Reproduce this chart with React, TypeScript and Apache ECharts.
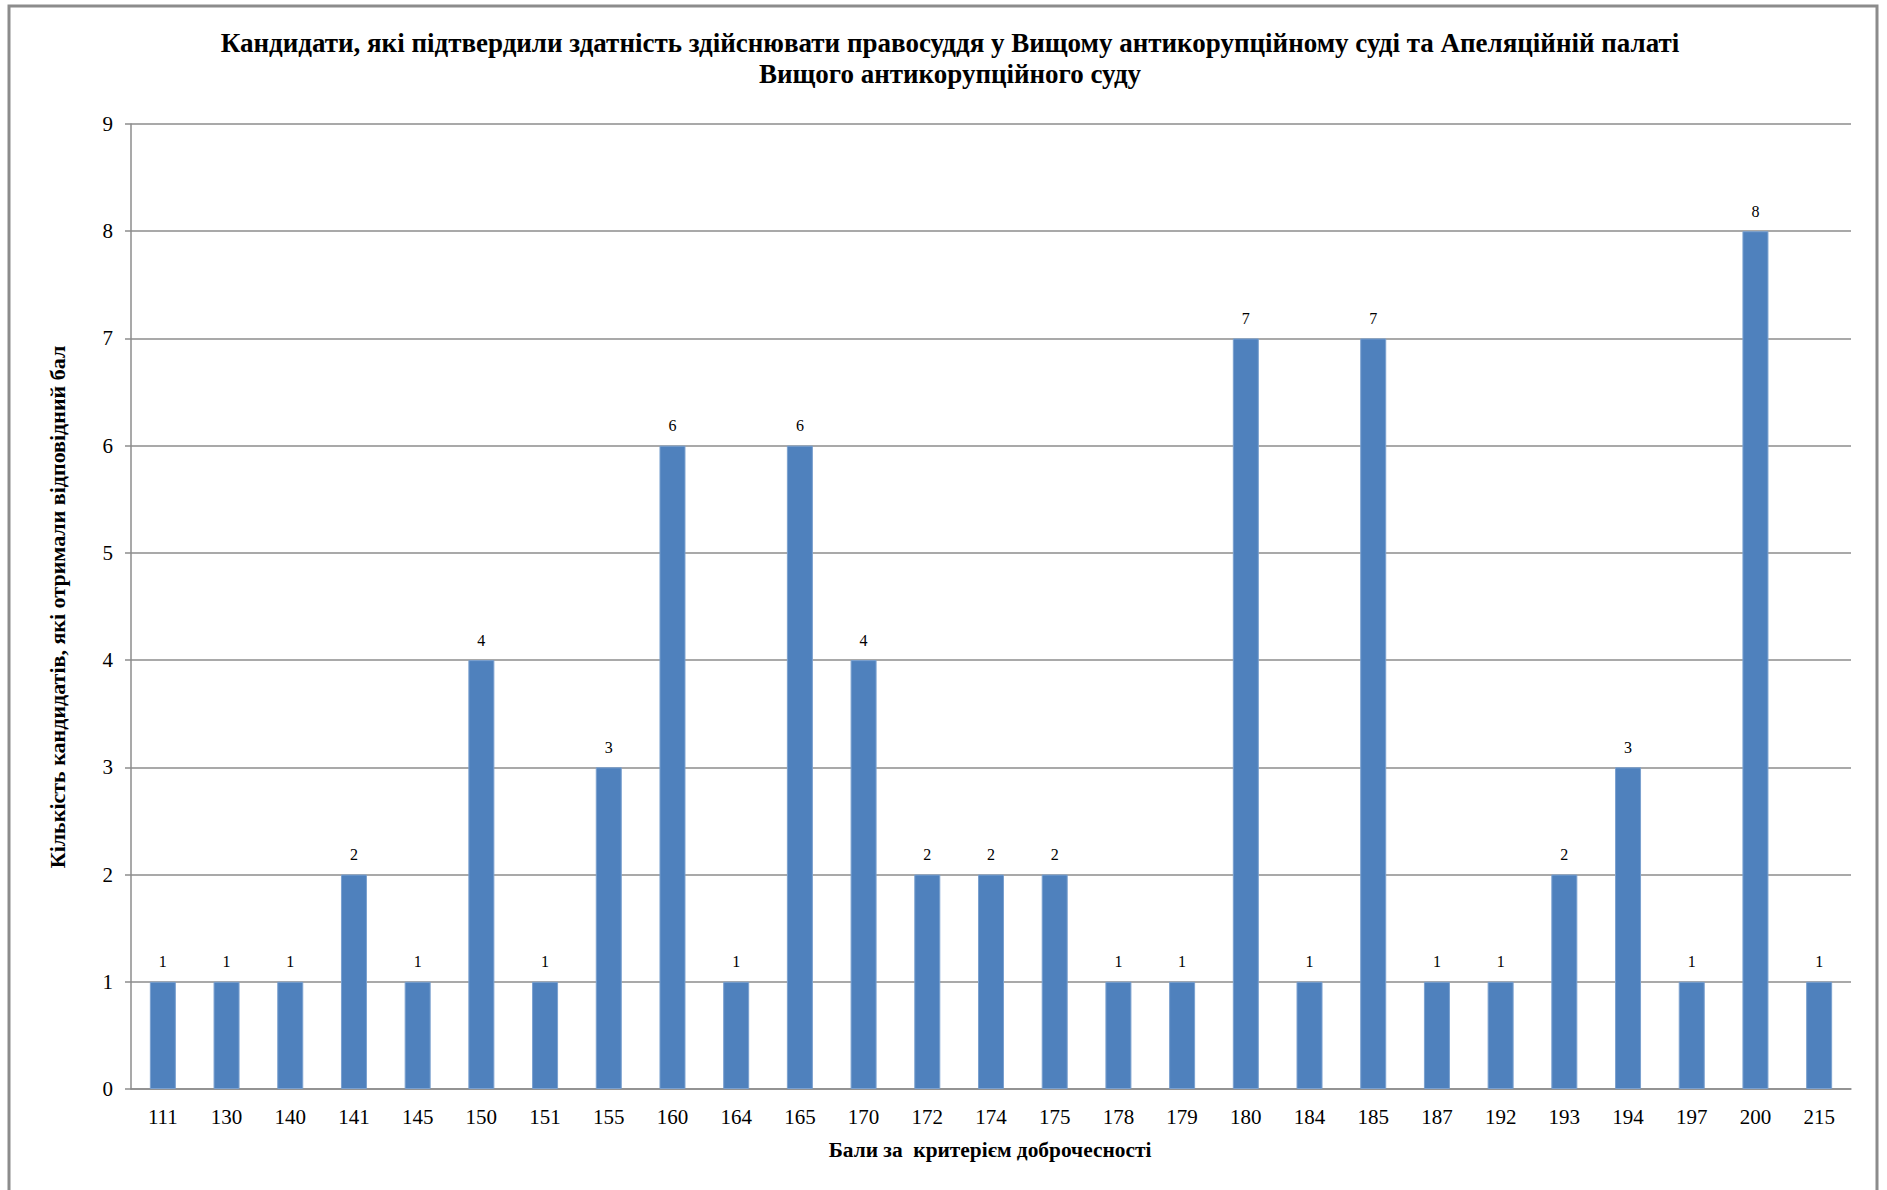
import React, { useEffect, useRef } from "react";
import * as echarts from "echarts";

const categories = ["111","130","140","141","145","150","151","155","160","164","165","170","172","174","175","178","179","180","184","185","187","192","193","194","197","200","215"];
const counts = [1,1,1,2,1,4,1,3,6,1,6,4,2,2,2,1,1,7,1,7,1,1,2,3,1,8,1];
const titleLines = [
  "Кандидати, які підтвердили здатність здійснювати правосуддя у Вищому антикорупційному суді та Апеляційній палаті",
  "Вищого антикорупційного суду",
];
const xAxisName = "Бали за  критерієм доброчесності";
const yAxisName = "Кількість кандидатів, які отримали відповідний бал";

const SERIF = '"Liberation Serif", "Times New Roman", serif';

export default function App() {
  const ref = useRef<HTMLDivElement>(null);
  useEffect(() => {
    if (!ref.current) return;
    const chart = echarts.init(ref.current, null, { renderer: "svg" });
    chart.setOption({
      animation: false,
      backgroundColor: "#ffffff",
      title: {
        text: titleLines.join("\n"),
        left: 945,
        top: 22,
        textAlign: "center",
        textStyle: {
          fontFamily: SERIF,
          fontWeight: "bold",
          fontSize: 27,
          color: "#000",
          lineHeight: 31,
        },
      },
      grid: { left: 131, right: 36, top: 124, bottom: 101, containLabel: false },
      xAxis: {
        type: "category",
        data: categories,
        axisLine: { show: true, lineStyle: { color: "#8c8c8c", width: 1.5 } },
        axisTick: { show: false },
        axisLabel: { fontFamily: SERIF, fontSize: 21, color: "#000", margin: 17, interval: 0 },
        splitLine: { show: false },
      },
      yAxis: {
        type: "value",
        min: 0,
        max: 9,
        interval: 1,
        axisLine: { show: true, lineStyle: { color: "#8c8c8c", width: 1.5 } },
        axisTick: { show: true, length: 6, lineStyle: { color: "#8c8c8c", width: 1.5 } },
        axisLabel: { fontFamily: SERIF, fontSize: 21, color: "#000", margin: 18 },
        splitLine: { show: true, lineStyle: { color: "#8c8c8c", width: 1.5 } },
      },
      series: [
        {
          type: "bar",
          data: counts,
          barWidth: 26,
          itemStyle: { color: "#4F81BD", borderColor: "#7aa0cf", borderWidth: 1 },
          label: {
            show: true,
            position: "top",
            distance: 12,
            fontFamily: SERIF,
            fontSize: 16,
            color: "#000",
          },
        },
      ],
      graphic: [
        {
          type: "rect",
          shape: { x: 9, y: 6, width: 1868, height: 1300 },
          style: { fill: "none", stroke: "#8c8c8c", lineWidth: 3 },
          silent: true,
        },
        {
          type: "text",
          x: 990,
          y: 1150,
          style: {
            text: xAxisName,
            fontFamily: SERIF,
            fontWeight: "bold",
            fontSize: 21.4,
            fill: "#000",
            textAlign: "center",
            textVerticalAlign: "middle",
          },
        },
        {
          type: "text",
          x: 57,
          y: 607,
          rotation: Math.PI / 2,
          style: {
            text: yAxisName,
            fontFamily: SERIF,
            fontWeight: "bold",
            fontSize: 22,
            fill: "#000",
            textAlign: "center",
            textVerticalAlign: "middle",
          },
        },
      ],
    });
    return () => chart.dispose();
  }, []);
  return (
    <div
      ref={ref}
      style={{ position: "fixed", left: 0, top: 0, width: 1887, height: 1190, background: "#fff" }}
    />
  );
}
